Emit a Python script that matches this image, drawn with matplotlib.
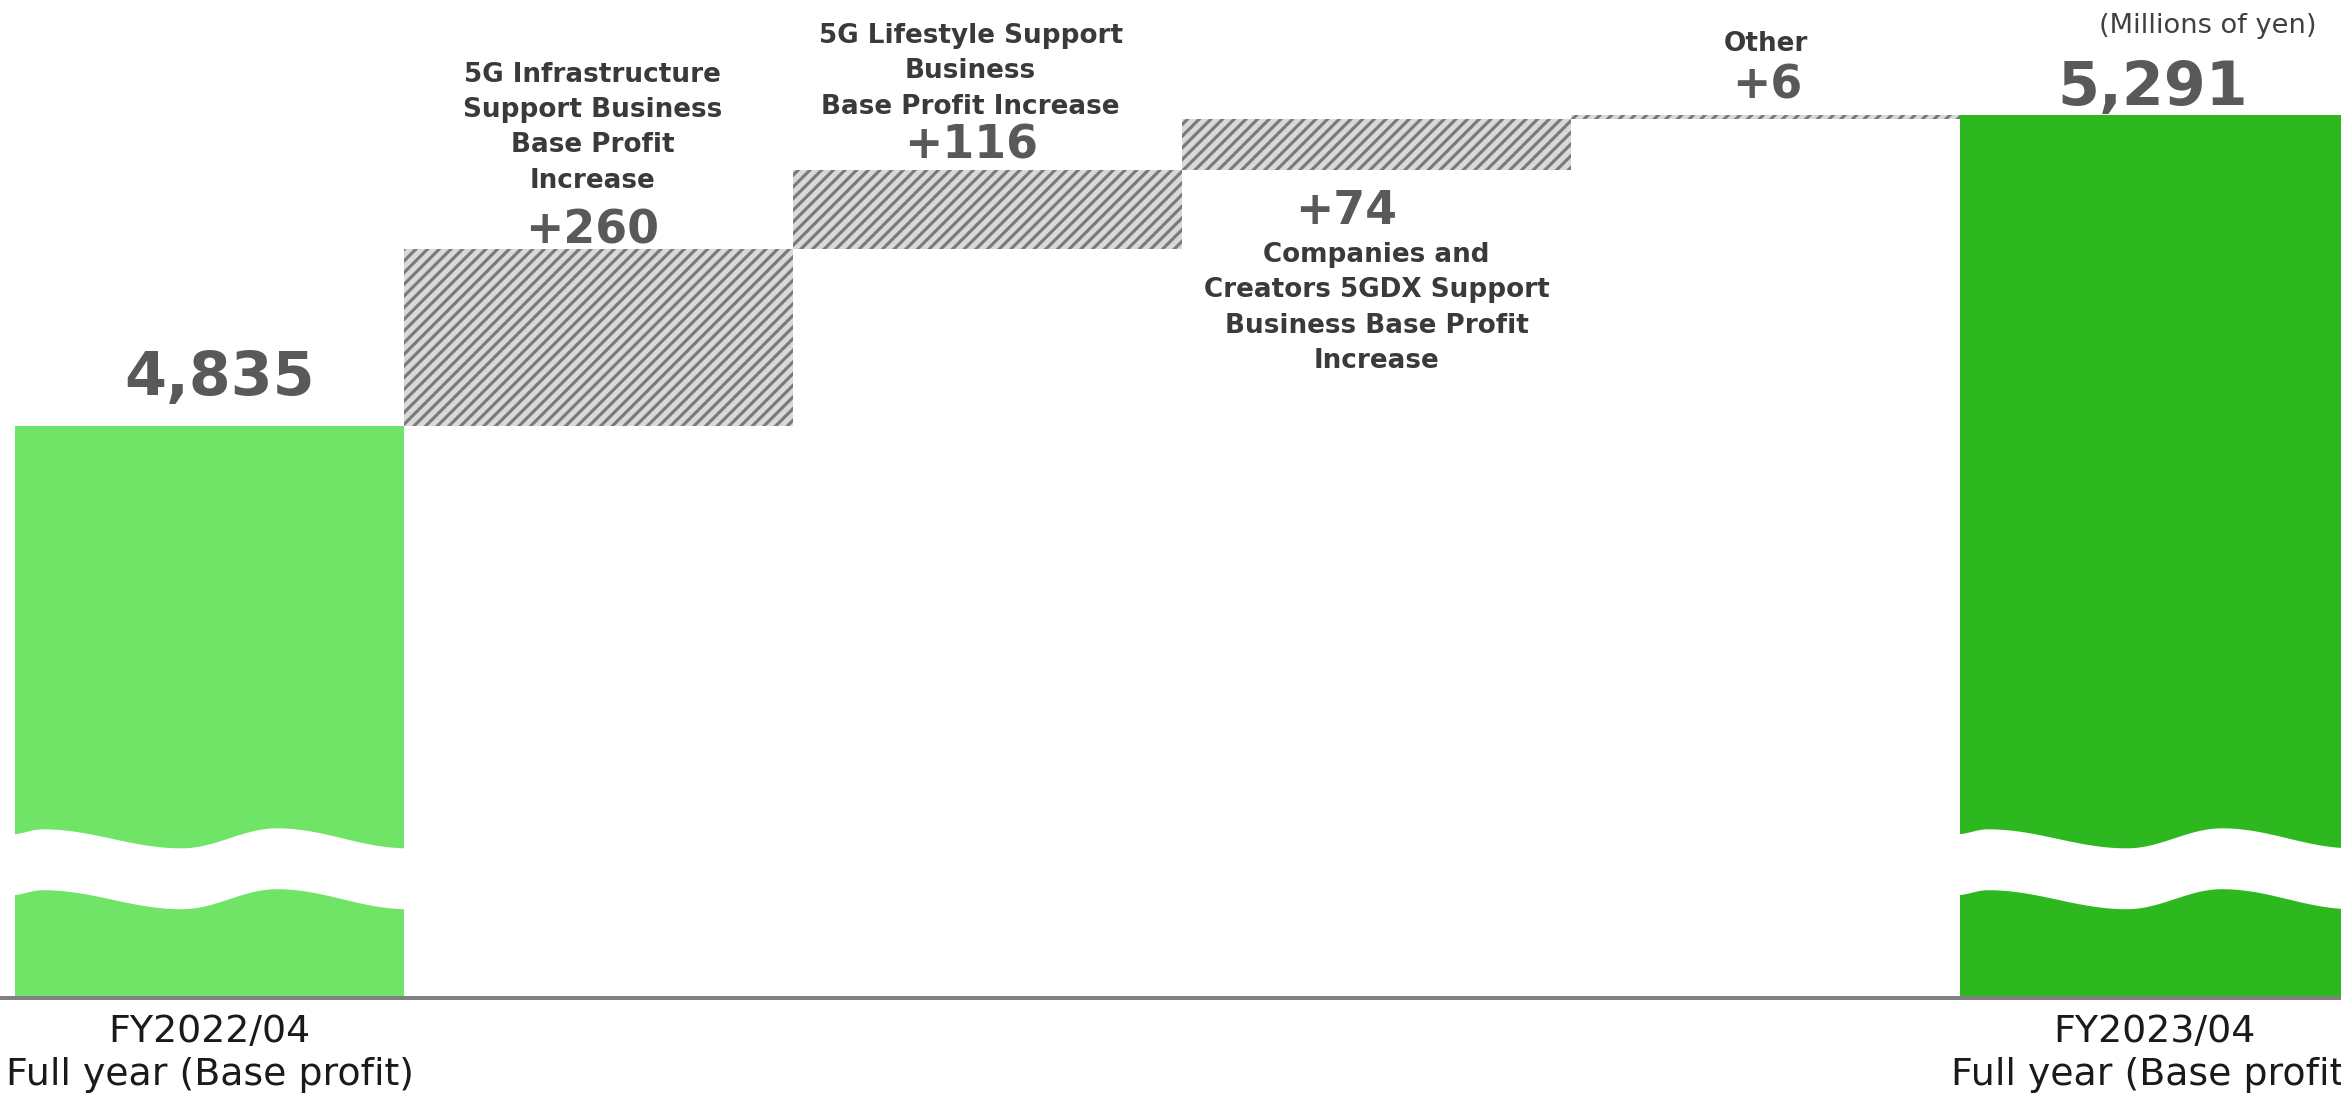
import numpy as np
import matplotlib
matplotlib.use("Agg")
import matplotlib.pyplot as plt
from matplotlib.patches import Polygon

# ---- data -------------------------------------------------------------
start_label = "FY2022/04\nFull year (Base profit)"
end_label = "FY2023/04\nFull year (Base profit)"
step_labels = [
    "5G Infrastructure\nSupport Business\nBase Profit\nIncrease",
    "5G Lifestyle Support\nBusiness\nBase Profit Increase",
    "Companies and\nCreators 5GDX Support\nBusiness Base Profit\nIncrease",
    "Other",
]
start_value = 4835
step_values = [260, 116, 74, 6]
end_value = 5291
unit_label = "(Millions of yen)"

# ---- style ------------------------------------------------------------
DPI = 140
LIGHT_GREEN = "#70e466"
DARK_GREEN = "#2db820"
STEP_FACE = "#d9d9d9"
STEP_HATCH = "#7a7a7a"
NUM_COLOR = "#595959"
TXT_COLOR = "#3a3a3a"

plt.rcParams["font.family"] = ["DejaVu Sans"]
plt.rcParams["hatch.linewidth"] = 1.6


def px(v):
    """pixels -> points"""
    return v * 72.0 / DPI


fig = plt.figure(figsize=(2341 / DPI, 1093 / DPI), dpi=DPI)
ax = fig.add_axes([0.0, 0.0869, 1.0, 0.9131])

n = len(step_values) + 2
xpos = np.arange(n)
bottoms = start_value + np.concatenate([[0], np.cumsum(step_values)[:-1]])
tops = bottoms + np.array(step_values)

# totals (the axis is broken, so they rise from below the visible range)
ax.bar(xpos[0], start_value, width=1.0, color=LIGHT_GREEN, linewidth=0)
ax.bar(xpos[-1], end_value, width=1.0, color=DARK_GREEN, linewidth=0)
# increments
ax.bar(xpos[1:-1], step_values, bottom=bottoms, width=1.0, color=STEP_FACE,
       edgecolor=STEP_HATCH, hatch="////", linewidth=0)

ax.set_xlim(-0.5386, 5.479)
ax.set_ylim(3996, 5460)

# wavy break bands across the two total bars
key_t = np.array([0.0, 0.08, 0.43, 0.67, 1.0])
key_off = np.array([-4, -9, 10, -10, 10]) / 998.0


def wave(t):
    out = np.empty_like(t)
    for i, tt in enumerate(t):
        j = np.clip(np.searchsorted(key_t, tt) - 1, 0, len(key_t) - 2)
        f = (tt - key_t[j]) / (key_t[j + 1] - key_t[j])
        f = (1 - np.cos(np.pi * f)) / 2
        out[i] = key_off[j] + (key_off[j + 1] - key_off[j]) * f
    return out


t = np.linspace(0, 1, 300)
upper = 0.160 - wave(t)
lower = upper - 0.061
for xc in (xpos[0], xpos[-1]):
    xs = xc - 0.5 + (t * 1.02 - 0.01)
    verts = np.concatenate([np.column_stack([xs, upper]),
                            np.column_stack([xs[::-1], lower[::-1]])])
    ax.add_patch(Polygon(verts, closed=True, facecolor="white",
                         edgecolor="none", transform=ax.get_xaxis_transform(),
                         zorder=3))

# ---- value labels -----------------------------------------------------
ax.annotate(f"{start_value:,}", xy=(xpos[0], start_value),
            xytext=(px(10), px(31)), textcoords="offset points",
            ha="center", va="baseline", fontsize=31, fontweight="bold",
            color=NUM_COLOR)
ax.annotate(f"{end_value:,}", xy=(xpos[-1], end_value),
            xytext=(px(-2), px(10)), textcoords="offset points",
            ha="center", va="baseline", fontsize=31, fontweight="bold",
            color=NUM_COLOR)

# (anchor, number offset px, number va, label offset px, label va)
placements = [
    ("top", (-6, 5), "baseline", (-6, 55), "bottom"),
    ("top", (-16, 11), "baseline", (-17, 50), "bottom"),
    ("bottom", (-30, -19), "top", (0, -72), "top"),
    ("top", (2, 17), "baseline", (0, 58), "bottom"),
]
for i, (val, lab) in enumerate(zip(step_values, step_labels)):
    anchor, noff, nva, loff, lva = placements[i]
    yref = tops[i] if anchor == "top" else bottoms[i]
    x = xpos[i + 1]
    ax.annotate(f"+{val}", xy=(x, yref), xytext=(px(noff[0]), px(noff[1])),
                textcoords="offset points", ha="center", va=nva,
                fontsize=23.5, fontweight="bold", color=NUM_COLOR)
    ax.annotate(lab, xy=(x, yref), xytext=(px(loff[0]), px(loff[1])),
                textcoords="offset points", ha="center", va=lva,
                multialignment="center", linespacing=1.47,
                fontsize=13.5, fontweight="bold", color=TXT_COLOR)

fig.text(0.943, 0.988, unit_label, ha="center", va="top", fontsize=14,
         color="#404040")

# ---- axes -------------------------------------------------------------
for side in ("top", "left", "right"):
    ax.spines[side].set_visible(False)
ax.spines["bottom"].set_color("#808080")
ax.spines["bottom"].set_linewidth(px(4))
ax.spines["bottom"].set_zorder(4)
ax.set_yticks([])
ax.set_xticks([xpos[0], xpos[-1]], [start_label, end_label])
ax.tick_params(axis="x", length=0, pad=px(16), labelsize=19.5,
               labelcolor="#1a1a1a")
for lab in ax.get_xticklabels():
    lab.set_linespacing(1.25)

fig.savefig("out.png", dpi=DPI)
